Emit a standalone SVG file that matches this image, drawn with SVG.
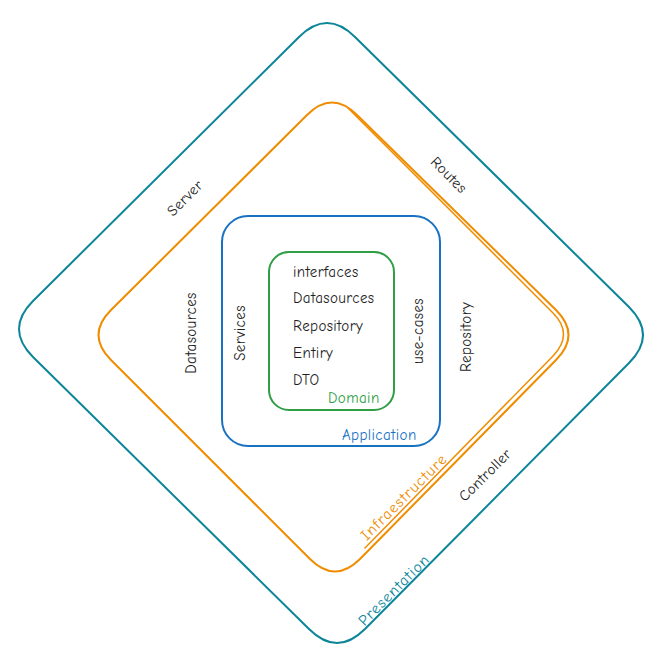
<svg xmlns="http://www.w3.org/2000/svg" width="664" height="664" viewBox="0 0 664 664">
  <style>
    .shape { fill: none; stroke-width: 2; stroke-linecap: round; stroke-linejoin: round; }
    .teal { stroke: #0c8599; }
    .orange { stroke: #f08c00; }
    .blue { stroke: #1971c2; }
    .green { stroke: #2f9e44; }
    text { font-family: "Comic Neue", "Liberation Sans", "DejaVu Sans", sans-serif; font-size: 15px; letter-spacing: 0.4px; fill: #1e1e1e; font-weight: 500; }
    .tteal { fill: #0c8599; }
    .torange { fill: #f08c00; }
    .tblue { fill: #1971c2; }
    .tgreen { fill: #2f9e44; }
    .mid { text-anchor: middle; }
  </style>
  <rect width="664" height="664" fill="#ffffff"/>

  <g id="presentation">
    <path class="shape teal" d="M355,37 L629,307 Q657,335 629,363 L365,629 Q337,657 309,629 L33,357 Q5,329 33,301 L299,37 Q327,9 355,37 Z"/>
    <text class="mid" transform="translate(185,198) rotate(-45)" y="5">Server</text>
    <text class="mid" transform="translate(449,175) rotate(45)" y="5">Routes</text>
    <text class="mid" transform="translate(485,475) rotate(-45)" y="5">Controller</text>
    <text class="mid tteal" transform="translate(394,590) rotate(-45)" y="5" style="font-size:15.5px;letter-spacing:1px">Presentation</text>
  </g>

  <g id="infrastructure">
    <path class="shape orange" d="M357,115 L556,310 Q581,335 556,360 L360,559 Q335,584 310,559 L111,360 Q86,335 111,310 L307,115 Q332,90 357,115 Z"/>
    <path class="shape orange" style="stroke-width:1.5" d="M348,108 L553,313 Q574,334 553,356 L365,548"/>
    <text class="mid" transform="translate(191,333) rotate(-90)" y="5">Datasources</text>
    <text class="mid" transform="translate(466,337) rotate(-90)" y="5">Repository</text>
    <text class="mid torange" transform="translate(404,497) rotate(-45)" y="5" style="font-size:15.5px;letter-spacing:1.1px">Infraestructure</text>
  </g>

  <g id="application">
    <rect class="shape blue" x="222" y="216" width="218" height="230" rx="26" ry="26"/>
    <text class="mid" transform="translate(240,333) rotate(-90)" y="5">Services</text>
    <text class="mid" transform="translate(418,331) rotate(-90)" y="5">use-cases</text>
    <text class="tblue" x="342" y="440">Application</text>
  </g>

  <g id="domain">
    <rect class="shape green" x="269" y="252" width="125" height="158" rx="20" ry="20"/>
    <text x="293" y="277">interfaces</text>
    <text x="293" y="303">Datasources</text>
    <text x="293" y="331">Repository</text>
    <text x="293" y="358">Entiry</text>
    <text x="293" y="385">DTO</text>
    <text class="tgreen" x="328" y="403">Domain</text>
  </g>
</svg>
